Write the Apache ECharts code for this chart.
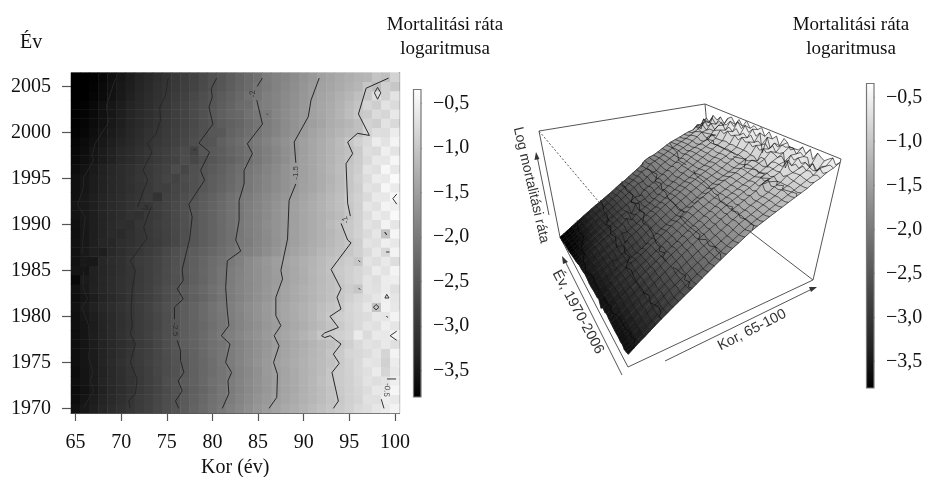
<!DOCTYPE html>
<html><head><meta charset="utf-8">
<script src="https://cdn.jsdelivr.net/npm/echarts@6/dist/echarts.min.js"></script>
<style>html,body{margin:0;padding:0;background:#fff}#c{width:929px;height:477px}</style>
</head><body><div id="c"></div>
<script>
const ages = [65,66,67,68,69,70,71,72,73,74,75,76,77,78,79,80,81,82,83,84,85,86,87,88,89,90,91,92,93,94,95,96,97,98,99,100];
const years = [1970,1971,1972,1973,1974,1975,1976,1977,1978,1979,1980,1981,1982,1983,1984,1985,1986,1987,1988,1989,1990,1991,1992,1993,1994,1995,1996,1997,1998,1999,2000,2001,2002,2003,2004,2005,2006];
const colorTicks = [-0.5,-1,-1.5,-2,-2.5,-3,-3.5];
// log mortality, one row per year (1970 first), one value per age (65..100)
const logRate = [
[-3.59,-3.49,-3.39,-3.30,-3.20,-3.10,-3.00,-2.91,-2.81,-2.72,-2.62,-2.53,-2.43,-2.32,-2.22,-2.11,-2.01,-1.91,-1.81,-1.72,-1.62,-1.52,-1.44,-1.37,-1.30,-1.23,-1.16,-1.09,-1.02,-.95,-.88,-.78,-.72,-.62,-.56,-.46],
[-3.63,-3.53,-3.43,-3.33,-3.24,-3.14,-3.04,-2.93,-2.84,-2.74,-2.64,-2.55,-2.45,-2.34,-2.25,-2.14,-2.05,-1.96,-1.85,-1.76,-1.66,-1.57,-1.49,-1.42,-1.34,-1.27,-1.20,-1.13,-1.05,-.99,-.90,-.84,-.68,-.70,-.52,-.58],
[-3.66,-3.56,-3.47,-3.37,-3.26,-3.17,-3.07,-2.96,-2.87,-2.77,-2.67,-2.57,-2.47,-2.37,-2.28,-2.18,-2.07,-1.98,-1.88,-1.79,-1.69,-1.60,-1.51,-1.43,-1.36,-1.28,-1.21,-1.13,-1.05,-.98,-.90,-.82,-.74,-.60,-.60,-.42],
[-3.62,-3.54,-3.44,-3.33,-3.24,-3.15,-3.05,-2.96,-2.85,-2.75,-2.63,-2.53,-2.43,-2.34,-2.24,-2.13,-2.06,-1.96,-1.87,-1.77,-1.68,-1.59,-1.50,-1.42,-1.35,-1.26,-1.19,-1.11,-1.01,-.95,-.89,-.80,-.66,-.72,-.66,-.50],
[-3.64,-3.54,-3.45,-3.35,-3.25,-3.14,-3.04,-2.94,-2.85,-2.74,-2.66,-2.56,-2.46,-2.36,-2.26,-2.17,-2.08,-1.99,-1.89,-1.80,-1.69,-1.58,-1.50,-1.43,-1.35,-1.27,-1.20,-1.13,-1.02,-.96,-.88,-.77,-.70,-.56,-.84,-.60],
[-3.62,-3.53,-3.44,-3.33,-3.22,-3.11,-3.00,-2.92,-2.82,-2.73,-2.65,-2.55,-2.46,-2.35,-2.26,-2.16,-2.05,-1.96,-1.86,-1.76,-1.66,-1.56,-1.47,-1.40,-1.33,-1.27,-1.19,-1.13,-1.06,-.97,-.87,-.78,-.62,-.66,-.88,-.54],
[-3.62,-3.53,-3.44,-3.34,-3.24,-3.14,-3.03,-2.93,-2.84,-2.74,-2.64,-2.54,-2.44,-2.34,-2.24,-2.14,-2.05,-1.96,-1.87,-1.78,-1.68,-1.59,-1.50,-1.43,-1.35,-1.28,-1.21,-1.14,-1.04,-.97,-.83,-.80,-.74,-.62,-.84,-.46],
[-3.62,-3.53,-3.43,-3.34,-3.24,-3.15,-3.06,-2.95,-2.85,-2.74,-2.63,-2.51,-2.41,-2.33,-2.23,-2.14,-2.06,-1.97,-1.88,-1.79,-1.70,-1.61,-1.52,-1.44,-1.37,-1.30,-1.23,-1.16,-1.08,-1.00,-.91,-.77,-.66,-.70,-.58,-.70],
[-3.61,-3.52,-3.42,-3.33,-3.22,-3.11,-3.00,-2.92,-2.81,-2.71,-2.61,-2.51,-2.41,-2.31,-2.21,-2.11,-2.00,-1.92,-1.83,-1.74,-1.65,-1.56,-1.47,-1.40,-1.32,-1.24,-1.16,-1.01,-.95,-.90,-.83,-.56,-.76,-.58,-.60,-.44],
[-3.60,-3.52,-3.43,-3.33,-3.23,-3.13,-3.04,-2.93,-2.84,-2.74,-2.63,-2.52,-2.41,-2.33,-2.24,-2.15,-2.05,-1.96,-1.87,-1.78,-1.69,-1.60,-1.53,-1.45,-1.37,-1.30,-1.22,-1.14,-1.05,-.97,-.86,-.78,-.64,-.70,-.52,-.62],
[-3.59,-3.50,-3.41,-3.31,-3.22,-3.12,-3.02,-2.92,-2.82,-2.72,-2.62,-2.51,-2.40,-2.31,-2.22,-2.12,-2.03,-1.94,-1.85,-1.75,-1.66,-1.57,-1.48,-1.41,-1.34,-1.26,-1.19,-1.10,-.99,-.92,-.85,-.77,-.74,-.60,-.62,-.46],
[-3.56,-3.46,-3.36,-3.26,-3.17,-3.09,-3.00,-2.90,-2.80,-2.70,-2.60,-2.50,-2.41,-2.31,-2.21,-2.11,-2.01,-1.92,-1.83,-1.74,-1.65,-1.56,-1.47,-1.40,-1.33,-1.26,-1.19,-1.11,-1.04,-.98,-.84,-.76,-.62,-1.05,-.48,-.60],
[-3.61,-3.52,-3.42,-3.33,-3.24,-3.15,-3.05,-2.95,-2.85,-2.76,-2.66,-2.56,-2.47,-2.38,-2.28,-2.17,-2.07,-1.97,-1.88,-1.79,-1.70,-1.61,-1.52,-1.44,-1.37,-1.30,-1.23,-1.16,-1.09,-1.01,-.90,-.80,-.72,-.62,-.50,-.62],
[-3.58,-3.47,-3.37,-3.28,-3.19,-3.10,-3.02,-2.93,-2.83,-2.73,-2.63,-2.53,-2.43,-2.33,-2.24,-2.14,-2.04,-1.95,-1.86,-1.77,-1.69,-1.60,-1.51,-1.43,-1.35,-1.28,-1.22,-1.15,-1.08,-1.02,-.93,-1.00,-.66,-.70,-.56,-.70],
[-3.70,-3.44,-3.38,-3.28,-3.20,-3.11,-3.03,-2.95,-2.85,-2.76,-2.67,-2.58,-2.49,-2.38,-2.28,-2.18,-2.07,-1.97,-1.87,-1.78,-1.70,-1.62,-1.54,-1.46,-1.38,-1.31,-1.23,-1.16,-1.08,-.99,-.90,-.82,-.64,-.72,-.54,-.52],
[-3.54,-3.52,-3.36,-3.30,-3.21,-3.12,-3.03,-2.95,-2.86,-2.77,-2.67,-2.57,-2.47,-2.37,-2.27,-2.17,-2.07,-1.97,-1.88,-1.78,-1.69,-1.61,-1.53,-1.46,-1.38,-1.30,-1.22,-1.14,-1.06,-.97,-.90,-.82,-.74,-.56,-.66,-.44],
[-3.58,-3.48,-3.48,-3.28,-3.20,-3.12,-3.01,-2.91,-2.86,-2.77,-2.68,-2.58,-2.48,-2.39,-2.29,-2.19,-2.10,-2.01,-1.91,-1.78,-1.68,-1.60,-1.51,-1.43,-1.36,-1.29,-1.23,-1.16,-1.07,-1.00,-.92,-1.00,-.66,-.72,-.58,-.72],
[-3.57,-3.47,-3.38,-3.40,-3.24,-3.15,-3.07,-2.99,-2.90,-2.81,-2.71,-2.61,-2.51,-2.42,-2.34,-2.26,-2.17,-2.08,-2.00,-1.91,-1.83,-1.73,-1.63,-1.53,-1.44,-1.37,-1.29,-1.21,-1.14,-1.07,-1.00,-.90,-.76,-.60,-.80,-.46],
[-3.58,-3.48,-3.39,-3.30,-3.28,-3.16,-3.10,-3.04,-2.97,-2.90,-2.82,-2.72,-2.60,-2.50,-2.40,-2.31,-2.22,-2.13,-2.02,-1.96,-1.86,-1.77,-1.67,-1.58,-1.48,-1.40,-1.33,-1.26,-1.18,-1.10,-1.02,-.92,-.66,-.70,-.50,-.60],
[-3.60,-3.50,-3.41,-3.32,-3.22,-3.22,-3.12,-3.04,-2.96,-2.89,-2.81,-2.71,-2.61,-2.51,-2.41,-2.32,-2.22,-2.13,-2.03,-1.94,-1.85,-1.76,-1.66,-1.57,-1.48,-1.41,-1.34,-1.27,-1.19,-1.11,-.98,-.87,-.76,-.62,-1.05,-.42],
[-3.59,-3.49,-3.41,-3.32,-3.23,-3.14,-3.16,-3.02,-2.96,-2.88,-2.80,-2.70,-2.60,-2.50,-2.41,-2.31,-2.22,-2.12,-2.02,-1.93,-1.84,-1.74,-1.66,-1.57,-1.48,-1.41,-1.34,-1.26,-1.16,-1.07,-.98,-.88,-.66,-.72,-.46,-.62],
[-3.56,-3.47,-3.41,-3.33,-3.25,-3.17,-3.08,-3.10,-2.96,-2.90,-2.80,-2.69,-2.60,-2.50,-2.41,-2.31,-2.22,-2.12,-2.03,-1.94,-1.85,-1.76,-1.66,-1.57,-1.48,-1.41,-1.34,-1.27,-1.20,-1.13,-1.02,-.88,-.72,-.54,-.62,-.38],
[-3.54,-3.47,-3.39,-3.31,-3.23,-3.15,-3.07,-2.99,-3.00,-2.88,-2.78,-2.70,-2.60,-2.50,-2.41,-2.32,-2.22,-2.12,-2.03,-1.94,-1.85,-1.76,-1.66,-1.58,-1.49,-1.41,-1.33,-1.25,-1.17,-1.10,-1.00,-.90,-.62,-.68,-.44,-.50],
[-3.57,-3.49,-3.41,-3.33,-3.25,-3.17,-3.09,-3.02,-2.92,-3.07,-2.80,-2.74,-2.62,-2.53,-2.43,-2.34,-2.24,-2.14,-2.04,-1.96,-1.87,-1.79,-1.70,-1.61,-1.52,-1.43,-1.35,-1.27,-1.18,-1.10,-.98,-.88,-.76,-.58,-.60,-.42],
[-3.59,-3.51,-3.43,-3.35,-3.27,-3.20,-3.12,-3.04,-2.96,-2.86,-2.86,-2.74,-2.68,-2.58,-2.49,-2.40,-2.32,-2.22,-2.12,-2.02,-1.93,-1.84,-1.75,-1.67,-1.57,-1.47,-1.40,-1.32,-1.22,-1.13,-1.02,-.92,-.66,-.70,-.42,-.56],
[-3.59,-3.51,-3.43,-3.35,-3.27,-3.19,-3.11,-3.02,-2.95,-2.86,-2.76,-2.78,-2.65,-2.58,-2.50,-2.41,-2.33,-2.24,-2.14,-2.02,-1.93,-1.84,-1.75,-1.67,-1.58,-1.49,-1.40,-1.32,-1.24,-1.15,-1.02,-.88,-.74,-.54,-.58,-.36],
[-3.64,-3.55,-3.46,-3.37,-3.28,-3.20,-3.12,-3.04,-2.96,-2.88,-2.80,-2.66,-2.74,-2.60,-2.52,-2.44,-2.36,-2.26,-2.16,-2.05,-1.96,-1.87,-1.77,-1.67,-1.58,-1.49,-1.40,-1.31,-1.22,-1.12,-1.02,-.92,-.64,-.70,-.40,-.60],
[-3.68,-3.60,-3.52,-3.44,-3.36,-3.27,-3.19,-3.10,-3.02,-2.94,-2.86,-2.78,-2.66,-2.72,-2.59,-2.50,-2.42,-2.34,-2.25,-2.15,-2.03,-1.93,-1.82,-1.72,-1.59,-1.49,-1.41,-1.32,-1.24,-1.15,-1.06,-.94,-.78,-.60,-.62,-.42],
[-3.71,-3.63,-3.53,-3.45,-3.36,-3.27,-3.19,-3.10,-3.02,-2.93,-2.85,-2.76,-2.66,-2.78,-2.50,-2.46,-2.40,-2.30,-2.21,-2.12,-2.02,-1.92,-1.81,-1.71,-1.60,-1.50,-1.40,-1.32,-1.24,-1.16,-1.07,-.96,-.72,-.76,-.50,-.64],
[-3.74,-3.66,-3.58,-3.49,-3.40,-3.32,-3.24,-3.15,-3.07,-2.98,-2.90,-2.81,-2.72,-2.63,-2.54,-2.52,-2.36,-2.26,-2.17,-2.08,-1.98,-1.88,-1.78,-1.68,-1.58,-1.48,-1.40,-1.33,-1.24,-1.14,-1.02,-.88,-.78,-.54,-.66,-.44],
[-3.78,-3.71,-3.62,-3.53,-3.45,-3.37,-3.28,-3.19,-3.09,-3.01,-2.93,-2.84,-2.76,-2.67,-2.58,-2.49,-2.48,-2.32,-2.24,-2.15,-2.05,-1.95,-1.85,-1.75,-1.65,-1.55,-1.44,-1.36,-1.29,-1.22,-1.15,-1.09,-.86,-.72,-.74,-.54],
[-3.82,-3.74,-3.66,-3.58,-3.49,-3.40,-3.31,-3.22,-3.14,-3.05,-2.96,-2.87,-2.78,-2.69,-2.60,-2.52,-2.42,-2.34,-2.28,-2.17,-2.07,-1.97,-1.87,-1.76,-1.67,-1.58,-1.50,-1.43,-1.33,-1.26,-1.19,-1.10,-.86,-.92,-.66,-.78],
[-3.84,-3.75,-3.67,-3.58,-3.50,-3.40,-3.31,-3.22,-3.14,-3.05,-2.96,-2.87,-2.78,-2.68,-2.58,-2.48,-2.38,-2.28,-2.24,-2.12,-2.02,-1.98,-1.84,-1.75,-1.67,-1.58,-1.47,-1.40,-1.32,-1.23,-1.12,-1.00,-.96,-.76,-.82,-.60],
[-3.85,-3.76,-3.68,-3.59,-3.50,-3.42,-3.33,-3.24,-3.16,-3.07,-2.98,-2.88,-2.78,-2.68,-2.59,-2.50,-2.41,-2.31,-2.20,-2.18,-1.98,-1.92,-1.85,-1.76,-1.68,-1.59,-1.48,-1.41,-1.34,-1.25,-1.15,-1.04,-.84,-.92,-.66,-.76],
[-3.90,-3.81,-3.73,-3.65,-3.56,-3.47,-3.38,-3.29,-3.20,-3.11,-3.02,-2.93,-2.83,-2.73,-2.62,-2.52,-2.43,-2.34,-2.24,-2.12,-2.05,-1.92,-1.85,-1.77,-1.69,-1.60,-1.52,-1.43,-1.36,-1.28,-1.20,-1.10,-1.00,-.72,-.88,-.66],
[-3.93,-3.85,-3.76,-3.67,-3.58,-3.49,-3.40,-3.31,-3.22,-3.13,-3.05,-2.96,-2.87,-2.78,-2.68,-2.58,-2.50,-2.40,-2.30,-2.20,-2.06,-1.98,-1.88,-1.80,-1.72,-1.63,-1.54,-1.46,-1.40,-1.34,-1.27,-1.21,-1.02,-1.14,-.90,-1.00],
[-3.95,-3.87,-3.78,-3.69,-3.60,-3.51,-3.42,-3.33,-3.24,-3.15,-3.07,-2.98,-2.89,-2.80,-2.70,-2.60,-2.52,-2.42,-2.32,-2.22,-2.12,-1.96,-1.88,-1.83,-1.75,-1.66,-1.57,-1.49,-1.43,-1.37,-1.30,-1.24,-1.20,-1.04,-1.10,-.86]
];
// contour polylines, as [age, year]
const contour35 = [[[69.36,2005.8],[68.81,2004.2],[68.37,2002.9],[68.63,2001.1],[67.16,1998.8],[66.8,1997.5],[66.98,1997],[65.88,1995.1],[65.88,1994.1],[65.22,1992.1],[66.06,1990.8],[65.8,1988.3],[65.7,1986.8]],[[65.88,1984.9],[65.8,1983.2],[66.3,1981.9],[65.7,1981],[66.43,1979],[66.54,1976.6],[66.43,1975.5],[66.9,1973.9],[66.6,1973],[66.98,1971.9],[65.88,1970.1]]];
const contour30 = [[[75.15,2005.9],[74.85,2004],[74.23,2002.75],[74.3,2001.3],[73.75,1999.7],[72.84,1998.8],[73.39,1997.9],[72.4,1995.9],[72.91,1994.8],[72.29,1993.3],[71.81,1991.9]],[[73.28,1991.9],[72.47,1989.7],[72.84,1988.5],[71,1986.05],[71.56,1985],[71.2,1982.8],[71.08,1980.6],[71.2,1979],[71,1978.1],[71.56,1977],[71,1975],[71.74,1973.2],[71.56,1971.6],[70.82,1970.8],[71,1970]]];
const contour25 = [[[80.46,2005.9],[79.87,2004.75],[79.98,2003.84],[79.62,2002.75],[80.05,2000.9],[78.52,1998.84],[79.69,1997.86],[78.7,1995.87],[79.14,1994.8],[77.42,1992.2],[77.78,1990.8],[77.5,1988.4],[76.68,1985.1],[76.8,1983.9],[76.14,1983],[76.8,1981.9],[75.84,1981],[75.84,1979.7]],[[76.14,1977.4],[76.5,1976.3],[76.5,1975.2],[76.87,1973.9],[76.25,1973],[76.68,1971.9],[75.95,1970.8],[76.3,1970]]];
const contour20 = [[[85.48,2005.9],[84.9,2005]],[[84.86,2003.5],[85.48,2000.9],[83.83,1998.77],[84.38,1997.7],[83.47,1995.87],[83.47,1994.4],[82.92,1992.6],[82.92,1990.4],[82.55,1988.3],[83.1,1987.1],[81.63,1986.05],[81.45,1983.15],[81.63,1980.6],[81.8,1979],[80.97,1977.9],[81.92,1977],[81.45,1975],[82.1,1973.9],[81.7,1973],[81.8,1971.6],[81.08,1970]]];
const contour15 = [[[91.7,2005.9],[90.8,2003.5],[90.5,2001.7],[88.96,1998.95],[89.14,1996.7]],[[89.14,1994.4],[88.4,1992.6],[88.23,1988.4],[87.5,1985],[87.68,1984.06],[86.95,1982.07],[86.95,1980.07],[87.5,1979],[86.76,1977.9],[87.3,1976.8],[86.7,1975],[87.13,1973.7],[87.05,1971.2],[86.2,1970]]];
const contour10 = [[[99.3,2005.9],[96.84,2004.8],[96,2002],[97.2,1999.67],[95.9,1999.9],[94.82,1998.95],[95.37,1997.7],[94.64,1996.6],[94.82,1992.3],[95.11,1990.9]],[[94.1,1990.1],[94.82,1988.3],[95.19,1988],[93,1985.1],[94.09,1983],[93.65,1982.07],[94.09,1980.8],[92.88,1980],[93.8,1978.8],[92.3,1978.2],[91.96,1977.9],[92.3,1977.7],[92.9,1977.9],[94.09,1977],[93.25,1975.9],[93.9,1974.9],[93.1,1973.9],[93.8,1970.8],[93.25,1970]]];
const contourSmall = [
[[97.75,2004.3],[98.1,2004.9],[98.45,2004.3],[98.1,2003.6],[97.75,2004.3]],
[[100.2,1993.3],[99.77,1992.8],[100.2,1992.2]],
[[98.9,1989.15],[99.1,1989.15],[99.1,1988.85],[98.9,1988.85],[98.9,1989.15]],
[[85.95,2002.05],[86.1,2002.05],[86.1,2001.9],[85.95,2002.05]],
[[77.95,1998.1],[78.2,1998.1],[78.2,1997.9],[77.95,1998.1]],
[[73.85,1993.1],[74.15,1993.1],[74.15,1992.9],[73.85,1993.1]],
[[96,1986.1],[96.2,1986.1],[96.2,1985.9],[96,1986.1]],
[[96,1983.1],[96.2,1983.1],[96.2,1982.9],[96,1983.1]],
[[97.65,1981],[97.93,1981.3],[98.25,1981],[97.93,1980.7],[97.65,1981]],
[[98.9,1982],[99.35,1982],[99.1,1982.4],[98.9,1982]],
[[99.05,1980],[99.25,1980.1],[99.25,1979.9],[99.05,1980]],
[[100.2,1978.4],[99.47,1977.9],[100.2,1977.4]],
[[99.03,1987],[99.4,1987]],
[[99.14,1973.2],[100.13,1973.2]],
[[98.5,1971],[98.8,1970]]
];
const contourTextItems = [
["-3.5",65.85,1986,-90],["-3",72.6,1991.8,0],["-2.5",75.9,1978.6,-90],["-2",84.45,2004.2,100],["-1.5",89.1,1995.6,90],["-1",94.6,1990.5,110],["-0.5",99.1,1972,-95]
];
const contourLevels = [[-3.5,contour35],[-3,contour30],[-2.5,contour25],[-2,contour20],[-1.5,contour15],[-1,contour10]];

// display configuration
const grayStops = [0,38,66,100,136,174,216,255];
const colorMin = -3.8, colorMax = -0.3;
const barMin = -3.8, barMax = -0.34;
const zBottom = -3.95, zTop = -0.36;
const meshYearStep = 2;
const boxCorners = {c000:[628,367],c001:[631,240],c010:[560,237],c011:[539,131],c100:[813,280],c101:[841,159],c110:[714,204],c111:[705,104]};
const boxEdges = [['c011','c111',0],['c111','c101',0],['c101','c100',0],['c100','c000',0],['c000','c010',0],['c010','c011',0],['c100','c110',0],['c110','c111',0],['c011','c001',1]];
const serif = '"Liberation Serif","Times New Roman",serif';
const sans = '"Liberation Sans",Arial,sans-serif';
const tickGray = '#555';

for (let i=0;i<logRate.length;i++) if (logRate[i].length!==ages.length) throw new Error('row '+years[i]+' has '+logRate[i].length);

const stopColors = grayStops.map(g=>`rgb(${g},${g},${g})`);
function shade(v){
  const t=Math.max(0,Math.min(1,(v-colorMin)/(colorMax-colorMin)))*(grayStops.length-1);
  const i=Math.min(grayStops.length-2,Math.floor(t));
  const g=Math.round(grayStops[i]+(grayStops[i+1]-grayStops[i])*(t-i));
  return `rgb(${g},${g},${g})`;
}
function project(age,year,z){
  const a=(age-65)/35,y=(year-1970)/36,w=(z-zBottom)/(zTop-zBottom),C=boxCorners;
  const mix=k=>(1-a)*((1-y)*((1-w)*C.c000[k]+w*C.c001[k])+y*((1-w)*C.c010[k]+w*C.c011[k]))
              +a*((1-y)*((1-w)*C.c100[k]+w*C.c101[k])+y*((1-w)*C.c110[k]+w*C.c111[k]));
  return [mix(0),mix(1)];
}
const fmtTick=v=>'\u2212'+Math.abs(v).toFixed(1).replace('.',',');

const heatData=[];
logRate.forEach((row,yi)=>row.forEach((v,xi)=>heatData.push([xi,yi,v])));
const cellOrder=[];
for(let yi=years.length-2;yi>=0;yi--)for(let xi=ages.length-2;xi>=0;xi--)cellOrder.push([xi,yi]);

// mesh lines over the surface: one per age, one every meshYearStep years
const meshLines=[];
ages.forEach((age,xi)=>meshLines.push(years.map((yr,yi)=>[age,yr,logRate[yi][xi]])));
years.forEach((yr,yi)=>{ if(yi%meshYearStep===0) meshLines.push(ages.map((age,xi)=>[age,yr,logRate[yi][xi]])); });

const contourSeries=[];
contourLevels.forEach(([lev,segs])=>segs.forEach(seg=>contourSeries.push({
  type:'line',xAxisIndex:1,yAxisIndex:1,data:seg,showSymbol:false,symbol:'none',silent:true,animation:false,
  lineStyle:{color:'#262626',width:1},z:5
})));
contourSmall.forEach(seg=>contourSeries.push({
  type:'line',xAxisIndex:1,yAxisIndex:1,data:seg,showSymbol:false,symbol:'none',silent:true,animation:false,
  lineStyle:{color:'#333',width:1},z:5
}));

const surfaceLines=[];
contourLevels.forEach(([lev,segs])=>segs.forEach(seg=>surfaceLines.push(seg.map(p=>[p[0],p[1],lev]))));

function bar(axisIndex){
  return {type:'custom',xAxisIndex:axisIndex,yAxisIndex:axisIndex,silent:true,animation:false,
    data:[[0,barMin,barMax]],
    renderItem(params,api){
      const p0=api.coord([0,barMax]),p1=api.coord([1,barMin]);
      return {type:'rect',shape:{x:p0[0],y:p0[1],width:p1[0]-p0[0],height:p1[1]-p0[1]},
        style:{fill:new echarts.graphic.LinearGradient(0,1,0,0,stopColors.map((c,i)=>{
          const v=colorMin+(colorMax-colorMin)*i/(stopColors.length-1);
          return {offset:Math.max(0,Math.min(1,(v-barMin)/(barMax-barMin))),color:c};
        })),stroke:'#777',lineWidth:1.2}};
    }};
}
function barAxes(left,top,width,height){
  return {grid:{left,top,width,height,outerBoundsMode:'none'},
    x:{show:false,type:'value',min:0,max:1},
    y:{type:'value',min:barMin,max:barMax,position:'right',splitLine:{show:false},
      axisLine:{show:false},
      axisTick:{show:true,length:8,lineStyle:{color:tickGray,width:1.2},customValues:colorTicks},
      axisLabel:{show:true,margin:12,color:'#111',fontFamily:serif,fontSize:20,customValues:colorTicks,formatter:fmtTick}}};
}
const barL=barAxes(413.5,89.5,7.5,307.5), barR=barAxes(866.5,83.5,7.5,304.5);

const option={
  animation:false,backgroundColor:'#fff',
  grid:[
    {left:71,top:72.6,width:328.5,height:340.4,outerBoundsMode:'none'},
    barL.grid,barR.grid,
    {left:0,top:0,width:929,height:477,outerBoundsMode:'none'}
  ],
  xAxis:[
    {type:'category',gridIndex:0,data:ages,position:'bottom',name:'Kor (\u00e9v)',nameLocation:'middle',nameGap:45,
      nameTextStyle:{fontFamily:serif,fontSize:20,color:'#111'},
      axisLine:{show:true,onZero:false,lineStyle:{color:'#555',width:1.2}},
      axisTick:{show:true,alignWithLabel:true,length:8,interval:(i,v)=>(+v)%5===0,lineStyle:{color:tickGray,width:1.2}},
      axisLabel:{margin:20,color:'#111',fontFamily:serif,fontSize:20,interval:(i,v)=>(+v)%5===0},splitLine:{show:false}},
    {type:'value',gridIndex:0,min:64.5,max:100.5,show:false},
    {gridIndex:1,...barL.x},{gridIndex:2,...barR.x},
    {type:'value',gridIndex:3,min:0,max:929,show:false}
  ],
  yAxis:[
    {type:'category',gridIndex:0,data:years,
      axisLine:{show:false},
      axisTick:{show:true,alignWithLabel:true,length:9,interval:(i,v)=>(+v)%5===0,lineStyle:{color:tickGray,width:1.2}},
      axisLabel:{margin:20,color:'#111',fontFamily:serif,fontSize:20,interval:(i,v)=>(+v)%5===0},splitLine:{show:false}},
    {type:'value',gridIndex:0,min:1969.5,max:2006.5,position:'right',
      axisLine:{show:true,onZero:false,lineStyle:{color:'#666',width:1.2}},axisTick:{show:false},axisLabel:{show:false},splitLine:{show:false}},
    {gridIndex:1,...barL.y},{gridIndex:2,...barR.y},
    {type:'value',gridIndex:3,min:0,max:477,inverse:true,show:false}
  ],
  visualMap:{show:false,type:'continuous',seriesIndex:0,dimension:2,min:colorMin,max:colorMax,inRange:{color:stopColors}},
  series:[
    {type:'heatmap',xAxisIndex:0,yAxisIndex:0,data:heatData,silent:true,animation:false,progressive:0,z:2},
    ...contourSeries,
    {type:'scatter',xAxisIndex:1,yAxisIndex:1,symbolSize:0,silent:true,animation:false,z:6,
      data:contourTextItems.map(t=>({value:[t[1],t[2]],label:{show:true,position:'inside',formatter:t[0],rotate:t[3],fontFamily:sans,fontSize:8,color:'#222'}}))},
    bar(2),bar(3),
    {type:'custom',xAxisIndex:4,yAxisIndex:4,silent:true,animation:false,z:2,
      data:boxEdges.map((e,i)=>[i]),
      renderItem(params,api){
        const d=boxEdges[params.dataIndex];
        const pa=api.coord(boxCorners[d[0]]),pb=api.coord(boxCorners[d[1]]);
        return {type:'line',shape:{x1:pa[0],y1:pa[1],x2:pb[0],y2:pb[1]},style:{stroke:'#555',lineWidth:1,lineDash:d[2]?[2,2]:null}};
      }},
    {type:'custom',xAxisIndex:4,yAxisIndex:4,silent:true,animation:false,progressive:0,z:3,
      data:cellOrder,
      renderItem(params,api){
        const [xi,yi]=cellOrder[params.dataIndex];
        const v=[logRate[yi][xi],logRate[yi][xi+1],logRate[yi+1][xi+1],logRate[yi+1][xi]];
        const pts=[project(ages[xi],years[yi],v[0]),project(ages[xi+1],years[yi],v[1]),project(ages[xi+1],years[yi+1],v[2]),project(ages[xi],years[yi+1],v[3])].map(p=>api.coord(p));
        const c=shade((v[0]+v[1]+v[2]+v[3])/4);
        return {type:'polygon',shape:{points:pts},style:{fill:c,stroke:c,lineWidth:0.6}};
      }},
    {type:'custom',xAxisIndex:4,yAxisIndex:4,silent:true,animation:false,z:4,
      data:meshLines.map((s,i)=>[i]),
      renderItem(params,api){
        const seg=meshLines[params.dataIndex].map(p=>api.coord(project(p[0],p[1],p[2])));
        return {type:'polyline',shape:{points:seg},style:{stroke:'rgba(20,20,20,0.62)',lineWidth:1,fill:null}};
      }},
    {type:'custom',xAxisIndex:4,yAxisIndex:4,silent:true,animation:false,z:5,
      data:surfaceLines.map((s,i)=>[i]),
      renderItem(params,api){
        const seg=surfaceLines[params.dataIndex].map(p=>api.coord(project(p[0],p[1],p[2])));
        return {type:'polyline',shape:{points:seg},style:{stroke:'rgba(0,0,0,0.7)',lineWidth:0.8,fill:null}};
      }}
  ],
  graphic:[
    {type:'text',x:445,y:13,style:{text:'Mortalit\u00e1si r\u00e1ta\nlogaritmusa',font:'19px '+serif,fill:'#111',textAlign:'center',lineHeight:24}},
    {type:'text',x:20,y:33,style:{text:'\u00c9v',font:'20px '+serif,fill:'#111'}},
    {type:'text',x:851,y:13,style:{text:'Mortalit\u00e1si r\u00e1ta\nlogaritmusa',font:'19px '+serif,fill:'#111',textAlign:'center',lineHeight:24}},
    {type:'text',x:531,y:185,rotation:-1.34,style:{text:'Log mortalit\u00e1si r\u00e1ta',font:'14px '+sans,fill:'#333',textAlign:'center',textVerticalAlign:'middle'}},
    {type:'text',x:578,y:312,rotation:-1.075,style:{text:'\u00c9v, 1970-2006',font:'14.5px '+sans,fill:'#333',textAlign:'center',textVerticalAlign:'middle'}},
    {type:'text',x:752,y:330,rotation:0.47,style:{text:'Kor, 65-100',font:'14.5px '+sans,fill:'#333',textAlign:'center',textVerticalAlign:'middle'}},
    {type:'line',shape:{x1:549,y1:215,x2:537,y2:156},style:{stroke:'#555',lineWidth:1}},
    {type:'polygon',shape:{points:[[536,152],[534.5,160],[539.5,159]]},style:{fill:'#333'}},
    {type:'line',shape:{x1:622,y1:375,x2:565,y2:261},style:{stroke:'#555',lineWidth:1}},
    {type:'polygon',shape:{points:[[562,256],[563,264],[568,262]]},style:{fill:'#333'}},
    {type:'line',shape:{x1:665,y1:361,x2:812,y2:289},style:{stroke:'#555',lineWidth:1}},
    {type:'polygon',shape:{points:[[817,287],[809,287],[811,292]]},style:{fill:'#333'}}
  ]
};
const chart=echarts.init(document.getElementById('c'),null,{renderer:'canvas'});
chart.setOption(option);
</script></body></html>
